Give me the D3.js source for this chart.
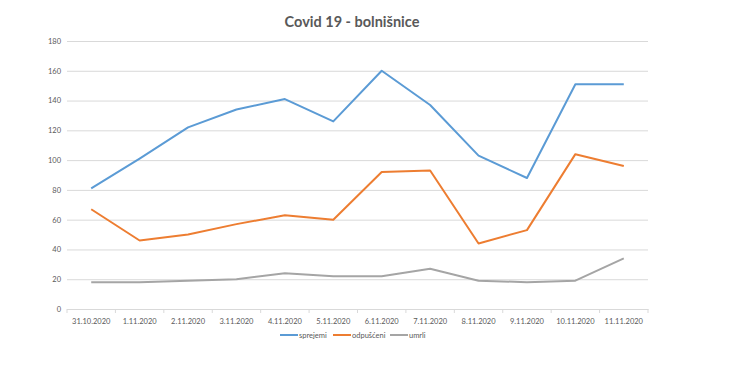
<!DOCTYPE html>
<html><head><meta charset="utf-8">
<script src="https://cdn.jsdelivr.net/npm/d3@7"></script>
<style>body{margin:0;background:#fff}svg{display:block}text{font-family:Lato,"Open Sans",sans-serif}</style>
</head><body><svg id="c" width="736" height="385"></svg>
<script>
const categories=["31.10.2020","1.11.2020","2.11.2020","3.11.2020","4.11.2020","5.11.2020","6.11.2020","7.11.2020","8.11.2020","9.11.2020","10.11.2020","11.11.2020"];
const sprejemi=[81,101,122,134,141,126,160,137,103,88,151,151];
const odpusceni=[67,46,50,57,63,60,92,93,44,53,104,96];
const umrli=[18,18,19,20,24,22,22,27,19,18,19,34];
const seriesNames=["sprejemi","odpušćeni","umrli"];
const colors=["#5B9BD5","#ED7D31","#A5A5A5"];
const yTicks=[0,20,40,60,80,100,120,140,160,180];
const title="Covid 19 - bolnišnice";

const svg=d3.select("#c");
const L=67,R=648,T=41,B=309;
const x=d3.scaleBand().domain(categories).range([L,R]);
const y=d3.scaleLinear().domain([0,180]).range([B,T]);

svg.append("text").attr("x",352).attr("y",27).attr("text-anchor","middle")
 .attr("font-size",14.5).attr("font-weight","bold").attr("fill","#595959").text(title);

const ya=svg.append("g").attr("transform",`translate(${L},0)`)
 .call(d3.axisLeft(y).tickValues(yTicks).tickSize(-(R-L)).tickPadding(6));
ya.select(".domain").remove();
ya.selectAll(".tick line").attr("stroke","#d9d9d9");
ya.selectAll(".tick text").attr("font-size",7.5).attr("fill","#595959");

const xa=svg.append("g").attr("transform",`translate(0,${B})`)
 .call(d3.axisBottom(x).tickSize(0).tickPadding(10));
xa.select(".domain").attr("stroke","#d9d9d9");
xa.selectAll(".tick text").attr("font-size",7.5).attr("fill","#595959");
// tick marks between categories
const bounds=categories.map(c=>x(c)).concat([R]);
svg.append("g").selectAll("line").data(bounds).join("line")
 .attr("x1",d=>d).attr("x2",d=>d).attr("y1",B).attr("y2",B+4).attr("stroke","#d9d9d9");

const data=[sprejemi,odpusceni,umrli];
const line=d3.line().x((d,i)=>x(categories[i])+x.bandwidth()/2).y(d=>y(d));
data.forEach((s,k)=>{
 svg.append("path").datum(s).attr("d",line).attr("fill","none")
  .attr("stroke",colors[k]).attr("stroke-width",2).attr("stroke-linejoin","round");
});

const lg=svg.append("g");
const lx=[280,333,390];
seriesNames.forEach((n,k)=>{
 lg.append("line").attr("x1",lx[k]).attr("x2",lx[k]+18).attr("y1",335).attr("y2",335)
  .attr("stroke",colors[k]).attr("stroke-width",2);
 lg.append("text").attr("x",lx[k]+19).attr("y",337.5).attr("font-size",7.5).attr("fill","#595959").text(n);
});
</script></body></html>
